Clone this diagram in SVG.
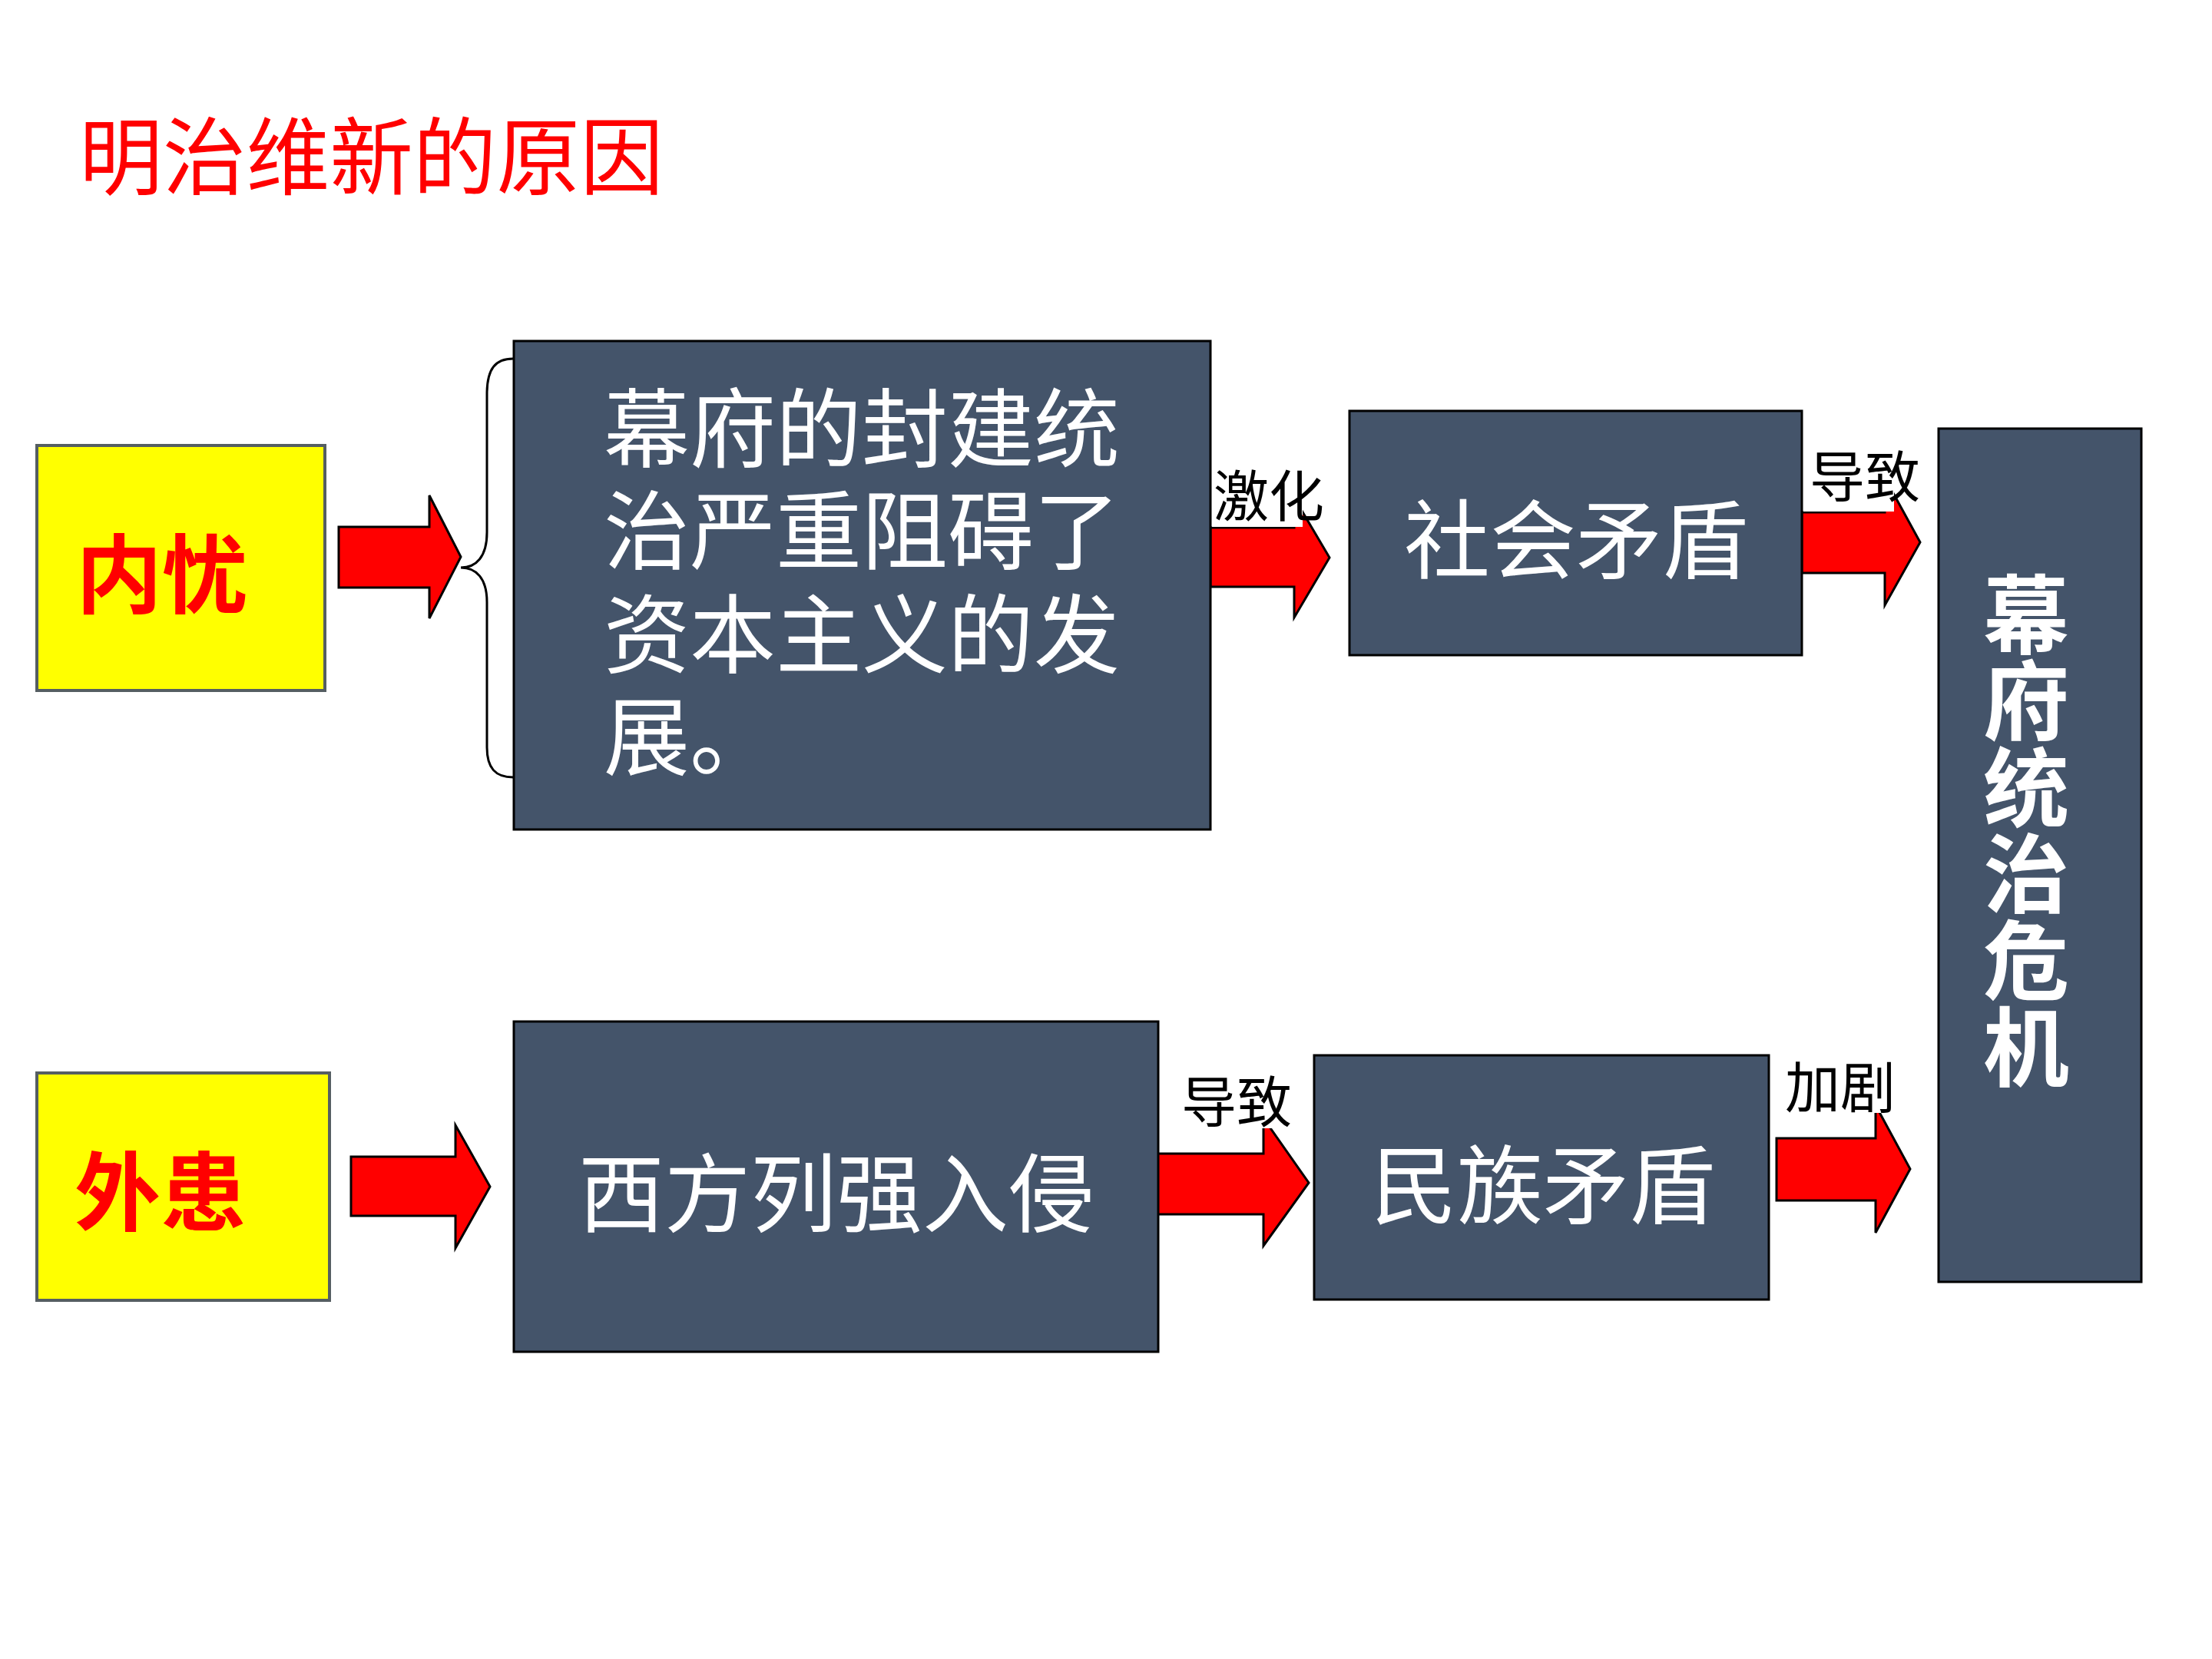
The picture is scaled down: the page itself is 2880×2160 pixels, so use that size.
<svg xmlns="http://www.w3.org/2000/svg" width="2880" height="2160" viewBox="0 0 2880 2160">
<style>
.t{font-family:"Noto Sans CJK SC","Noto Sans CJK JP",sans-serif}
.box{fill:#44546A;stroke:#000;stroke-width:3}
.ybox{fill:#FFFF00;stroke:#555E62;stroke-width:4}
.arr{fill:#FF0000;stroke:#000;stroke-width:3;stroke-linejoin:miter}
.wt{fill:#FFFFFF;font-size:112px}
.lbl{fill:#000;font-size:72px;text-anchor:middle}
.bg{fill:#FFFFFF}
</style>
<rect width="2880" height="2160" fill="#FFFFFF"/>
<text class="t" x="103" y="245" font-size="110" fill="#FF0000" textLength="761" lengthAdjust="spacingAndGlyphs">明治维新的原因</text>
<g id="connectors">
<polygon class="arr" points="441,686 559,686 559,645 600,725 559,805 559,765 441,765"/>
<polygon class="arr" points="1576,687 1685,687 1685,648 1731,726 1685,804 1685,764 1576,764"/>
<polygon class="arr" points="2346,667 2454,667 2454,622 2500,706 2454,788 2454,746 2346,746"/>
<polygon class="arr" points="457,1506 593,1506 593,1465 638,1545 593,1625 593,1583 457,1583"/>
<polygon class="arr" points="1507,1502 1645,1502 1645,1456 1704,1540 1645,1622 1645,1581 1507,1581"/>
<polygon class="arr" points="2313,1482 2442,1482 2442,1439 2487,1522 2442,1605 2442,1563 2313,1563"/>
<path d="M668,467 C645,467 634,480 634,513 L634,693 C634,725 620,739 600,739 C620,739 634,753 634,784 L634,973 C634,1000 645,1012 668,1012" fill="none" stroke="#000" stroke-width="3"/>
<g id="label-jihua"><rect class="bg" x="1578" y="600" width="118" height="86"/><text class="t lbl" x="1652" y="672">激化</text></g>
<g id="label-daozhi1"><rect class="bg" x="2348" y="578" width="118" height="88"/><text class="t lbl" x="2428" y="647">导致</text></g>
<g id="label-daozhi2"><rect class="bg" x="1535" y="1394" width="122" height="75"/><text class="t lbl" x="1610" y="1461">导致</text></g>
<g id="label-jiaju"><rect class="bg" x="2318" y="1374" width="134" height="75"/><text class="t lbl" x="2396" y="1442">加剧</text></g>
</g>
<g id="node-neiyou">
<rect class="ybox" x="48" y="580" width="375" height="319"/>
<text class="t" x="211" y="790" font-size="112" font-weight="bold" fill="#FF0000" text-anchor="middle">内忧</text>
</g>
<g id="node-waihuan">
<rect class="ybox" x="48" y="1397" width="381" height="296"/>
<text class="t" x="209" y="1594" font-size="112" font-weight="bold" fill="#FF0000" text-anchor="middle">外患</text>
</g>
<g id="node-mufu">
<rect class="box" x="669" y="444" width="907" height="636"/>
<text class="t wt" x="786" y="600"><tspan x="786" y="600">幕府的封建统</tspan><tspan x="786" y="733">治严重阻碍了</tspan><tspan x="786" y="868">资本主义的发</tspan><tspan x="786" y="1001">展。</tspan></text>
</g>
<g id="node-shehui">
<rect class="box" x="1757" y="535" width="589" height="318"/>
<text class="t wt" x="2052" y="745" text-anchor="middle">社会矛盾</text>
</g>
<g id="node-xifang">
<rect class="box" x="669" y="1330" width="839" height="430"/>
<text class="t wt" x="1089" y="1596" text-anchor="middle">西方列强入侵</text>
</g>
<g id="node-minzu">
<rect class="box" x="1711" y="1374" width="592" height="318"/>
<text class="t wt" x="2009" y="1585" text-anchor="middle">民族矛盾</text>
</g>
<g id="node-weiji">
<rect class="box" x="2524" y="558" width="264" height="1111"/>
<text class="t" x="2638" y="744" fill="#FFFFFF" font-size="112" font-weight="bold" writing-mode="vertical-rl" letter-spacing="0.6">幕府统治危机</text>
</g>
</svg>
